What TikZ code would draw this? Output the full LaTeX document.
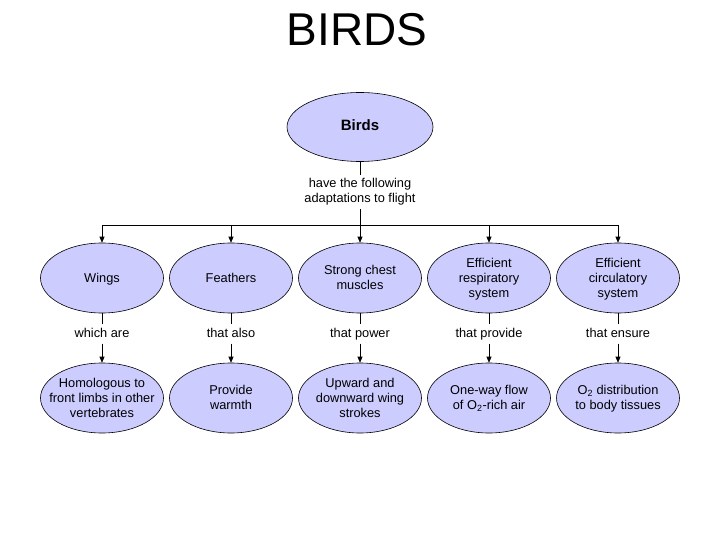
\documentclass[tikz,border=0pt]{standalone}
\usepackage{fontspec}
\setmainfont{Liberation Sans}
\usetikzlibrary{shapes.geometric,arrows.meta}
\definecolor{lav}{RGB}{204,204,255}
\newcommand{\bub}[1]{\makebox[0pt]{\raisebox{-4pt}[0pt][0pt]{\begin{tabular}{@{}c@{}}#1\end{tabular}}}}
\newcommand{\lb}[1]{\begin{tabular}{@{}c@{}}#1\end{tabular}}
\tikzset{
  bubble/.style={ellipse,draw=black,fill=lav,line width=0.6pt,minimum width=123pt,minimum height=70pt,inner sep=0pt,align=center,font=\fontsize{12.8}{15}\selectfont},
  lbl/.style={inner sep=2pt,font=\fontsize{12.8}{15}\selectfont},
  conn/.style={line width=0.6pt},
  arr/.style={line width=0.6pt,-{Triangle[length=6pt,width=5pt]}},
}
\begin{document}
\begin{tikzpicture}[x=1pt,y=-1pt]
\useasboundingbox (0,0) rectangle (720,540);
\node[font=\fontsize{46}{50}\selectfont] (title) at (357,30) {BIRDS};
\node[bubble,minimum width=146pt,minimum height=69pt,font=\bfseries\fontsize{15}{17}\selectfont] (birds) at (360,127) {\bub{Birds}};
\node[lbl] (have) at (360,192) {\lb{have the following\\adaptations to flight}};
\draw[conn] (birds) -- (have);
\foreach \i/\x in {1/102,2/231,3/360,4/489,5/618}{
  \coordinate (j\i) at (\x,225);
}
\draw[conn] (have.south) -- (j3);
\draw[conn] (j1) -- (j5);
\node[bubble] (a1) at (102,278) {\bub{Wings}};
\node[bubble] (a2) at (231,278) {\bub{Feathers}};
\node[bubble] (a3) at (360,278) {\bub{Strong chest\\muscles}};
\node[bubble] (a4) at (489,278) {\bub{Efficient\\respiratory\\system}};
\node[bubble] (a5) at (618,278) {\bub{Efficient\\circulatory\\system}};
\node[lbl] (l1) at (102,334) {\lb{which are}};
\node[lbl] (l2) at (231,334) {\lb{that also}};
\node[lbl] (l3) at (360,334) {\lb{that power}};
\node[lbl] (l4) at (489,334) {\lb{that provide}};
\node[lbl] (l5) at (618,334) {\lb{that ensure}};
\node[bubble] (b1) at (102,398) {\bub{Homologous to\\front limbs in other\\vertebrates}};
\node[bubble] (b2) at (231,398) {\bub{Provide\\warmth}};
\node[bubble] (b3) at (360,398) {\bub{Upward and\\downward wing\\strokes}};
\node[bubble] (b4) at (489,398) {\bub{One-way flow\\of O\textsubscript{2}-rich air}};
\node[bubble] (b5) at (618,398) {\bub{O\textsubscript{2} distribution\\to body tissues}};
\foreach \i in {1,...,5}{
  \draw[arr] (j\i) -- (a\i);
  \draw[conn] (a\i) -- (l\i);
  \draw[arr] (l\i) -- (b\i);
}
\end{tikzpicture}
\end{document}
